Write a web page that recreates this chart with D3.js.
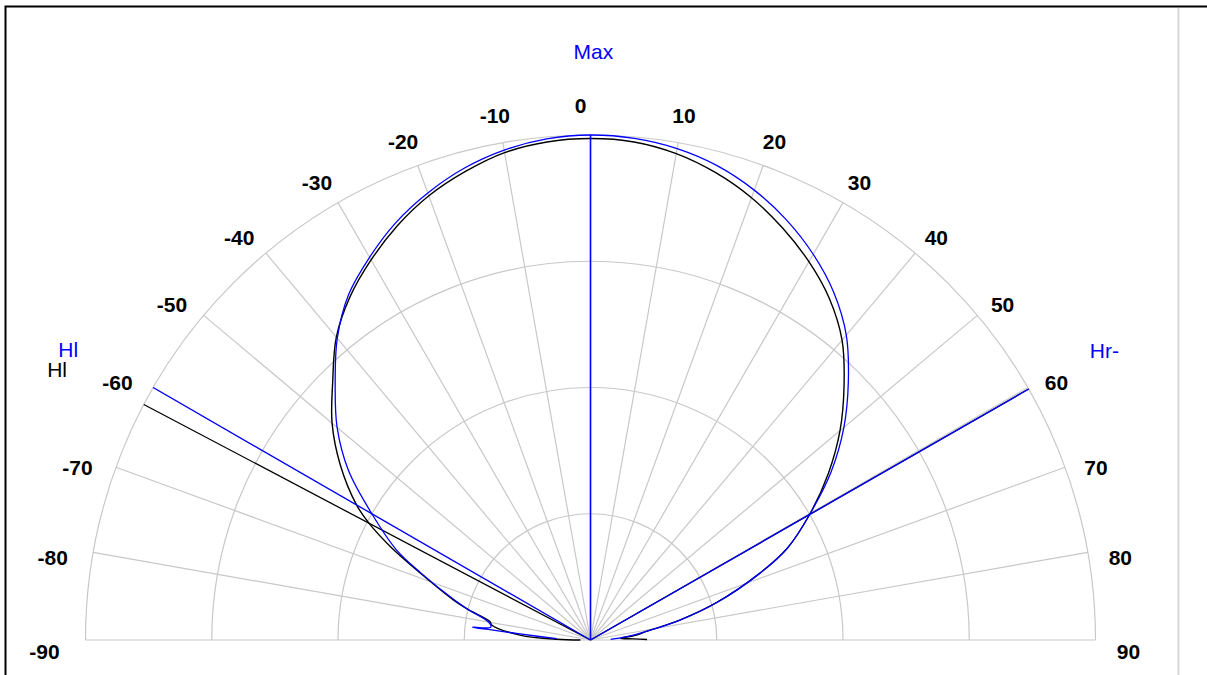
<!DOCTYPE html>
<html><head><meta charset="utf-8">
<script src="https://cdn.jsdelivr.net/npm/d3@7"></script>
<style>
html,body{margin:0;padding:0;background:#fff;}
svg{display:block;}
text{font-family:"Liberation Sans",Arial,sans-serif;}
</style></head><body>
<svg id="chart" width="1207" height="675"></svg>
<script>
// ---------------- data ----------------
const ringValues = [0.25, 0.5, 0.75, 1.0];
const tickAngles = [-90,-80,-70,-60,-50,-40,-30,-20,-10,0,10,20,30,40,50,60,70,80,90];
const tickLabels = ["-90","-80","-70","-60","-50","-40","-30","-20","-10","0","10","20","30","40","50","60","70","80","90"];

// black series (angle in degrees, relative amplitude)
const blackAngles = [-90,-88.8,-86,-81.4,-79.7,-76,-73.7,-68.5,-65,-62.2,-60,-55,-50,-45,-40,-35,-30,-25,-20,-15,-10,-5,0,
                      5,10,15,20,25,30,35,40,45,50,55,60.2,65,68.5,73.5,77.5,81,84,87,88.5,89.5];
const blackValues = [0.02,0.067,0.14,0.198,0.202,0.25,0.283,0.363,0.437,0.496,0.535,0.605,0.668,0.722,0.783,0.83,0.869,0.905,0.936,0.96,0.98,0.99,0.993,
                      0.99,0.978,0.958,0.932,0.9,0.865,0.825,0.775,0.71,0.645,0.575,0.5,0.43,0.36,0.26,0.18,0.115,0.09,0.06,0.085,0.112];

// blue series
const blueAngles = [-87.8,-85.1,-84.2,-83.8,-82.6,-80,-76,-73.7,-68.5,-65,-60,-55,-50,-45,-40,-35,-30,-25,-20,-15,-10,-5,0,
                     5,10,15,20,25,30,35,40,45,50,55,60.2,65,68.5,73.5,77.5,81,85,88];
const blueValues = [0.067,0.14,0.197,0.235,0.199,0.205,0.25,0.28,0.36,0.425,0.5,0.585,0.655,0.715,0.78,0.835,0.875,0.912,0.942,0.967,0.985,0.996,1.0,
                     0.997,0.988,0.972,0.948,0.918,0.882,0.84,0.788,0.722,0.655,0.582,0.5,0.43,0.36,0.26,0.18,0.115,0.07,0.04];

// marker lines (Max / half-value angles)
const markerNames = ["Max","Hl","Hr-"];
const blueMarkerAngles = [0,-60,60.2];
const blackMarkerAngles = [0,-62.2,60.2];
const blackLabelNames = ["Hl"];
const blackLabelAngles = [-62.2];

// ---------------- drawing ----------------
const W = 1207, H = 675;
const cx = 590.5, cy = 640, R = 505;
const svg = d3.select("#chart");

// frame
svg.append("path").attr("d", `M5.5,${H} L5.5,6.5 L${W},6.5`)
  .attr("fill","none").attr("stroke","#000").attr("stroke-width",2);
svg.append("line").attr("x1",1178.5).attr("x2",1178.5).attr("y1",8).attr("y2",H)
  .attr("stroke","#d8d8d8").attr("stroke-width",2);

const r = d3.scaleLinear().domain([0,1]).range([0,R]);
const ang = d3.scaleLinear().domain([-90,90]).range([-Math.PI/2, Math.PI/2]);

const g = svg.append("g").attr("transform",`translate(${cx},${cy})`);
const grid = g.append("g").attr("fill","none").attr("stroke","#c8c8c8").attr("stroke-width",1.2);

// rings
grid.selectAll("path.ring").data(ringValues).enter().append("path")
  .attr("class","ring")
  .attr("d", v => { const p = d3.path(); p.arc(0,0,r(v),Math.PI,2*Math.PI); return p.toString(); });

// spokes
grid.selectAll("line.spoke").data(tickAngles).enter().append("line")
  .attr("class","spoke")
  .attr("x1",0).attr("y1",0)
  .attr("x2", a => r(1)*Math.sin(ang(a)))
  .attr("y2", a => -r(1)*Math.cos(ang(a)));

// tick labels
const labR = 535;
g.append("g").selectAll("text").data(tickAngles).enter().append("text")
  .attr("text-anchor","middle")
  .attr("font-size",21).attr("font-weight","bold").attr("fill","#000")
  .attr("x", a => {
    const s = Math.abs(Math.sin(ang(a)));
    const off = a === 0 ? -10 : (a < 0 ? -10*s - 1 : 3*s);
    return labR*Math.sin(ang(a)) + off;
  })
  .attr("y", a => -labR*Math.cos(ang(a)) + 11*Math.abs(Math.sin(ang(a))) + 7.5)
  .text((a,i) => tickLabels[i]);

// marker lines
function markerLines(angles, color){
  g.append("g").selectAll("line").data(angles).enter().append("line")
    .attr("x1",0).attr("y1",0)
    .attr("x2", a => r(1)*Math.sin(ang(a)))
    .attr("y2", a => -r(1)*Math.cos(ang(a)))
    .attr("stroke",color).attr("stroke-width",1.3);
}
markerLines(blackMarkerAngles, "#000");

const radial = d3.lineRadial().curve(d3.curveCatmullRom.alpha(0.5))
  .angle(d => ang(d[0])).radius(d => r(d[1]));
g.append("path").datum(blackAngles.map((a,i)=>[a,blackValues[i]]))
  .attr("d", radial).attr("fill","none").attr("stroke","#000").attr("stroke-width",1.4);

markerLines(blueMarkerAngles, "#0000ff");
g.append("path").datum(blueAngles.map((a,i)=>[a,blueValues[i]]))
  .attr("d", radial).attr("fill","none").attr("stroke","#0000ff").attr("stroke-width",1.3);

// marker labels
const mR = 595;
function markerLabels(names, angles, color){
  g.append("g").selectAll("text").data(angles).enter().append("text")
    .attr("font-size",21).attr("fill",color)
    .attr("x", a => mR*Math.sin(ang(a)) - 17)
    .attr("y", a => -mR*Math.cos(ang(a)) + 14)
    .text((a,i) => names[i]);
}
markerLabels(blackLabelNames, blackLabelAngles, "#000");
markerLabels(markerNames, blueMarkerAngles, "#0000ff");
</script>
</body></html>
